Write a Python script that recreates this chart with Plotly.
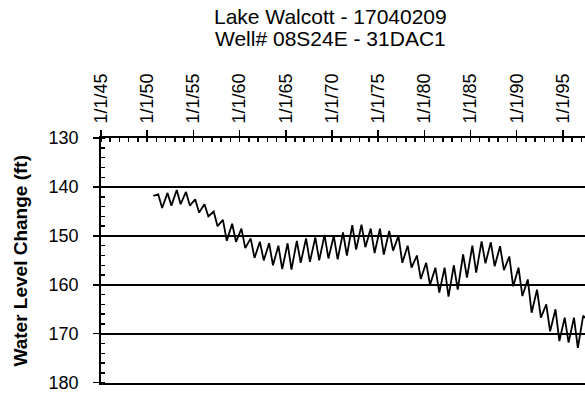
import plotly.graph_objects as go

# Per-year readings (ft): shallower level (early in year) and deeper level (late summer)
years = list(range(1951, 1998))
shallow = [141.5, 141.2, 140.6, 141.0, 142.5, 143.5, 145.0, 146.7, 147.5, 148.5,
           150.5, 151.2, 151.5, 152.0, 151.5, 151.0, 150.5, 150.3, 149.8, 150.0,
           149.3, 147.8, 147.7, 148.5, 148.5, 149.0, 150.0, 152.0, 154.0, 155.5,
           156.5, 156.5, 156.0, 153.8, 152.0, 151.1, 151.3, 152.1, 154.2, 156.5,
           158.9, 161.0, 164.0, 165.0, 166.7, 166.7, 166.3]
deep = [144.3, 143.8, 143.5, 143.8, 145.2, 146.0, 148.0, 151.0, 151.2, 152.5,
        154.5, 155.0, 156.0, 156.8, 156.9, 155.5, 155.3, 155.0, 154.6, 154.8,
        154.0, 152.8, 152.3, 153.5, 153.8, 153.0, 155.5, 156.5, 158.8, 160.0,
        161.6, 162.4, 161.0, 158.5, 157.5, 155.6, 156.2, 157.0, 160.3, 162.3,
        165.7, 166.7, 169.5, 171.5, 171.8, 172.9, None]
first_date = "1950-09-01"
first_level = 141.8
last_date = "1997-05-25"
last_level = 166.8

y_ticks = [130, 140, 150, 160, 170, 180]
tick_labels_fmt = "%-m/%-d/%y"

x = [first_date]
y = [first_level]
for yr, s, d in zip(years, shallow, deep):
    x.append(f"{yr}-03-15")
    y.append(s)
    if d is not None:
        x.append(f"{yr}-08-15")
        y.append(d)
x.append(last_date)
y.append(last_level)

FONT = "Liberation Sans, Arial, sans-serif"

W, H = 585, 393
L, T, B = 101, 138, 10
PW = W - L
PH = H - T - B

def px_x(px):
    return (px - L) / PW

def px_y(py):
    return 1 + (T - py) / PH

fig = go.Figure()
fig.add_trace(go.Scatter(x=x, y=y, mode="lines",
                         line=dict(color="black", width=1.8),
                         showlegend=False, hoverinfo="skip"))

fig.update_layout(
    width=W, height=H,
    margin=dict(l=L, r=0, t=T, b=B, autoexpand=False),
    paper_bgcolor="white", plot_bgcolor="white",
    font=dict(family=FONT, color="black", size=18),
    xaxis=dict(
        type="date", side="top", automargin=False,
        range=["1945-01-01", last_date],
        tick0="1945-01-01", dtick="M60",
        tickformat=tick_labels_fmt, tickangle=-90,
        ticks="outside", ticklen=6, tickwidth=1.5, tickcolor="black",
        minor=dict(dtick="M12", ticks="inside", ticklen=4, tickwidth=1.5,
                   tickcolor="black", showgrid=False),
        showline=True, linecolor="black", linewidth=1.8, mirror=True,
        showgrid=False, zeroline=False,
        tickfont=dict(family=FONT, size=18, color="black"),
        ticklabelstandoff=3,
    ),
    yaxis=dict(
        range=[180.08, 129.97], automargin=False,
        tickmode="array", tickvals=y_ticks, ticktext=[str(v) for v in y_ticks],
        ticks="outside", ticklen=6, tickwidth=1.5, tickcolor="black",
        minor=dict(tick0=130, dtick=2, ticks="inside", ticklen=4, tickwidth=1.5,
                   tickcolor="black", showgrid=False),
        showline=True, linecolor="black", linewidth=1.8,
        showgrid=True, gridcolor="black", gridwidth=1.8,
        zeroline=False,
        tickfont=dict(family=FONT, size=18, color="black"),
        ticklabelstandoff=11,
    ),
    annotations=[
        dict(text="Lake Walcott - 17040209", xref="paper", yref="paper",
             x=px_x(330), y=px_y(16), xanchor="center", yanchor="middle",
             borderpad=0,
             showarrow=False, font=dict(family=FONT, size=21, color="black")),
        dict(text="Well# 08S24E - 31DAC1", xref="paper", yref="paper",
             x=px_x(330), y=px_y(38), xanchor="center", yanchor="middle",
             borderpad=0,
             showarrow=False, font=dict(family=FONT, size=21, color="black")),
        dict(text="<b>Water Level Change (ft)</b>", xref="paper", yref="paper",
             x=px_x(20), y=0.5, xanchor="center", yanchor="middle",
             textangle=-90, showarrow=False,
             font=dict(family=FONT, size=19, color="black")),
    ],
)

fig.write_html("out.html",
               config={"displayModeBar": False, "staticPlot": True},
               post_script="document.body.style.margin='0';")
